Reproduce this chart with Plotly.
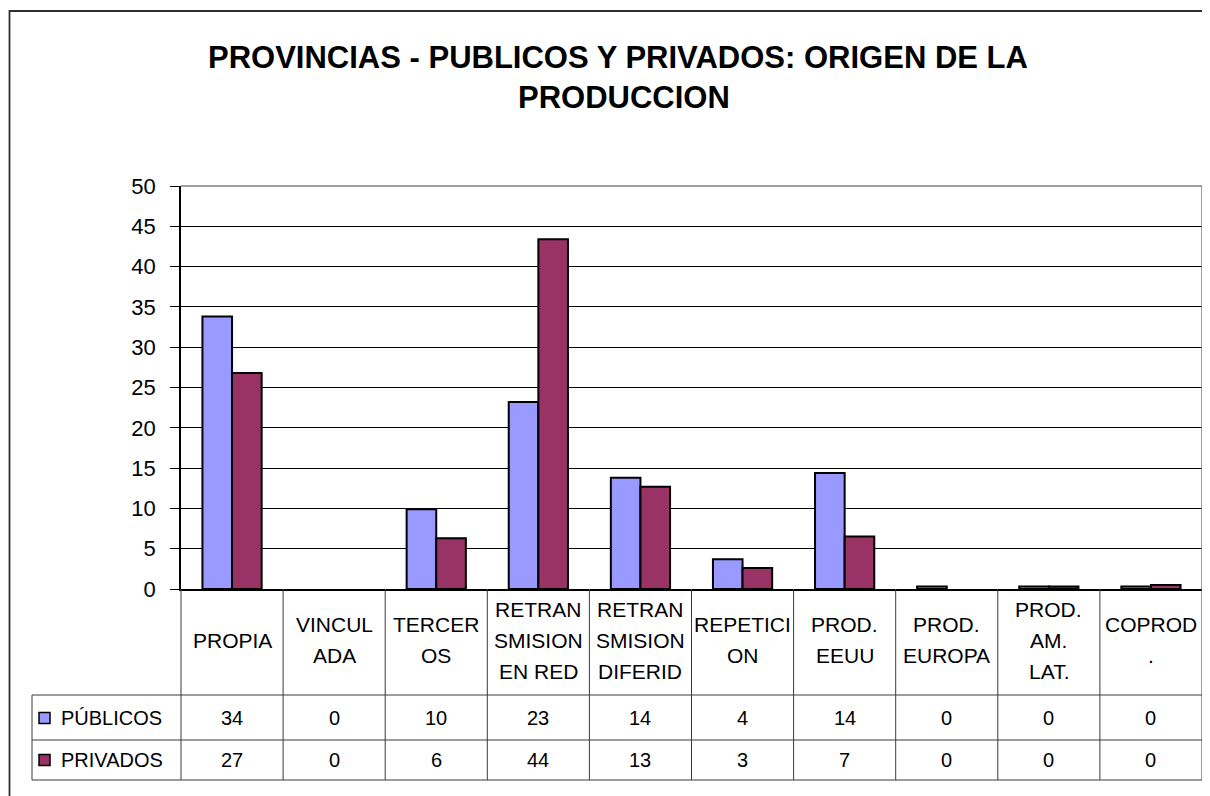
import plotly.graph_objects as go

# ---------------- data ----------------
categories = ["PROPIA", "VINCULADA", "TERCEROS", "RETRANSMISION EN RED",
              "RETRANSMISION DIFERID", "REPETICION", "PROD. EEUU",
              "PROD. EUROPA", "PROD. AM. LAT.", "COPROD."]
category_label_lines = [
    ["PROPIA"], ["VINCUL", "ADA"], ["TERCER", "OS"],
    ["RETRAN", "SMISION", "EN RED"], ["RETRAN", "SMISION", "DIFERID"],
    ["REPETICI", "ON"], ["PROD.", "EEUU"], ["PROD.", "EUROPA"],
    ["PROD.", "AM.", "LAT."], ["COPROD", "."],
]
series_names = ["PÚBLICOS", "PRIVADOS"]
publicos = [33.8, 0, 9.9, 23.2, 13.8, 3.7, 14.4, 0.3, 0.3, 0.3]
privados = [26.8, 0, 6.3, 43.4, 12.7, 2.6, 6.5, 0, 0.3, 0.5]
publicos_table = [34, 0, 10, 23, 14, 4, 14, 0, 0, 0]
privados_table = [27, 0, 6, 44, 13, 3, 7, 0, 0, 0]
y_ticks = [0, 5, 10, 15, 20, 25, 30, 35, 40, 45, 50]
title_line1 = "PROVINCIAS - PUBLICOS Y PRIVADOS: ORIGEN DE LA"
title_line2 = "PRODUCCION"

# ---------------- geometry (reference pixels) ----------------
OFF = 8  # page body margin
W, H = 1210 - OFF, 796 - OFF
PL, PR, PT, PB = 181, 1202, 186, 589
PW, PH = PR - PL, PB - PT

def px(x):
    return (x - PL) / PW

def py(y):
    return (PB - y) / PH

COL_PUB = "#9999FF"
COL_PRI = "#993366"
FONT = "Liberation Sans, Arial, sans-serif"
n = len(categories)
colw = PW / n

def outline(vals):
    return [2 if v > 0 else 0 for v in vals]

fig = go.Figure()
fig.add_trace(go.Bar(x=categories, y=publicos, name=series_names[0],
                     marker=dict(color=COL_PUB,
                                 line=dict(color="black", width=outline(publicos)))))
fig.add_trace(go.Bar(x=categories, y=privados, name=series_names[1],
                     marker=dict(color=COL_PRI,
                                 line=dict(color="black", width=outline(privados)))))

shapes = []
annotations = []
LINE = dict(color="#3a3a3a", width=1)

# plot frame (gray top and right)
shapes.append(dict(type="line", xref="paper", yref="paper", x0=0, x1=1, y0=1, y1=1,
                   line=dict(color="#808080", width=1.5), layer="above"))
shapes.append(dict(type="line", xref="paper", yref="paper", x0=1, x1=1, y0=0, y1=1,
                   line=dict(color="#808080", width=1.5), layer="above"))

# table grid
ROW0, ROW1, ROW2 = 695, 740, 780
for i in range(n + 1):
    xx = PL + i * colw
    shapes.append(dict(type="line", xref="paper", yref="paper",
                       x0=px(xx), x1=px(xx), y0=py(PB), y1=py(ROW2), line=LINE))
for yy in (ROW0, ROW1, ROW2):
    shapes.append(dict(type="line", xref="paper", yref="paper",
                       x0=px(32), x1=px(PR), y0=py(yy), y1=py(yy), line=LINE))
shapes.append(dict(type="line", xref="paper", yref="paper",
                   x0=px(32), x1=px(32), y0=py(ROW0), y1=py(ROW2), line=LINE))

# legend keys in table
for yc, col in ((718, COL_PUB), (760, COL_PRI)):
    shapes.append(dict(type="rect", xref="paper", yref="paper",
                       x0=px(39), x1=px(50), y0=py(yc + 5.5), y1=py(yc - 5.5),
                       fillcolor=col, line=dict(color="black", width=1.5)))
for yc, name in ((718, series_names[0]), (760, series_names[1])):
    annotations.append(dict(text=name, xref="paper", yref="paper", x=px(59), y=py(yc),
                            xanchor="left", yanchor="middle", showarrow=False,
                            font=dict(family=FONT, size=20, color="black")))

# category header labels
LSP = 31
for i, lines in enumerate(category_label_lines):
    xc = PL + (i + 0.5) * colw
    k = len(lines)
    for j, t in enumerate(lines):
        yc = 640 + (j - (k - 1) / 2) * LSP
        annotations.append(dict(text=t, xref="paper", yref="paper", x=px(xc), y=py(yc),
                                xanchor="center", yanchor="middle", showarrow=False,
                                font=dict(family=FONT, size=21, color="black")))

# table values
for i in range(n):
    xc = PL + (i + 0.5) * colw
    for yc, vals in ((718, publicos_table), (760, privados_table)):
        annotations.append(dict(text=str(vals[i]), xref="paper", yref="paper",
                                x=px(xc), y=py(yc), xanchor="center", yanchor="middle",
                                showarrow=False,
                                font=dict(family=FONT, size=20, color="black")))

# title
annotations.append(dict(text="<b>" + title_line1 + "</b>", xref="paper", yref="paper",
                        x=px(618), y=py(58), xanchor="center", yanchor="middle",
                        showarrow=False, font=dict(family=FONT, size=31, color="black")))
annotations.append(dict(text="<b>" + title_line2 + "</b>", xref="paper", yref="paper",
                        x=px(624), y=py(98), xanchor="center", yanchor="middle",
                        showarrow=False, font=dict(family=FONT, size=31, color="black")))

# outer chart border (extends past right/bottom edges)
shapes.append(dict(type="rect", xref="paper", yref="paper",
                   x0=px(9.5), x1=px(1230), y0=py(820), y1=py(11),
                   line=dict(color="#303030", width=1.8), fillcolor="rgba(0,0,0,0)"))

fig.update_layout(
    width=W, height=H,
    margin=dict(l=PL - OFF, r=1210 - PR, t=PT - OFF, b=796 - PB, pad=0),
    paper_bgcolor="white", plot_bgcolor="white",
    barmode="group", bargap=0.42, bargroupgap=0,
    showlegend=False,
    shapes=shapes, annotations=annotations,
    font=dict(family=FONT, color="black"),
)
fig.update_xaxes(showticklabels=False, showgrid=False, zeroline=False,
                 showline=True, linecolor="black", linewidth=1.5, ticks="",
                 categoryorder="array", categoryarray=categories)
fig.update_yaxes(range=[0, 50], tickvals=y_ticks, showgrid=True, gridcolor="black",
                 gridwidth=1, zeroline=False, showline=True, linecolor="black",
                 linewidth=1.5, ticks="outside", ticklen=9, tickcolor="black",
                 tickwidth=1, ticklabelstandoff=10,
                 tickfont=dict(family=FONT, size=22, color="black"))

fig.write_html("out.html")
